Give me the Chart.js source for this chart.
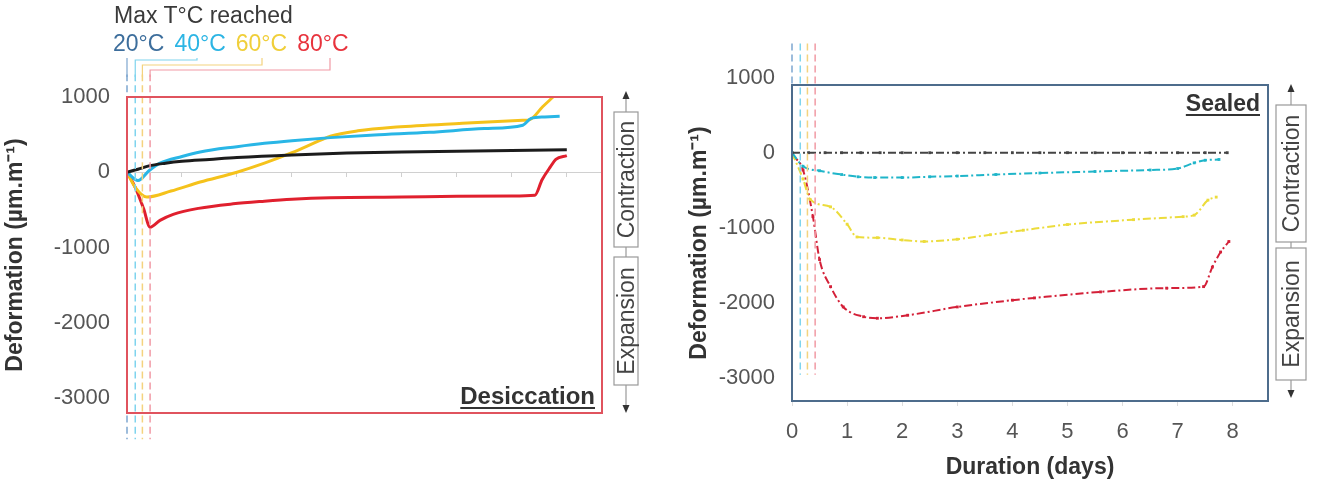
<!DOCTYPE html>
<html>
<head>
<meta charset="utf-8">
<script src="https://cdn.jsdelivr.net/npm/chart.js@4.4.1/dist/chart.umd.min.js"></script>
<style>
  body { margin: 0; background: #fff; width: 1320px; height: 489px; position: relative; overflow: hidden;
         font-family: "Liberation Sans", Arial, sans-serif; color: #333; }
  .panel { position: absolute; top: 0; width: 660px; height: 489px; }
  .lbl { position: absolute; white-space: nowrap; line-height: 1; }
  .tag { font-size: 24px; font-weight: bold; text-decoration: underline; text-decoration-thickness: 2px; text-underline-offset: 3px; }
  #temps span { margin-right: 10px; }
  svg { position: absolute; left: 0; top: 0; }
</style>
</head>
<body>
<div class="panel" style="left:0"><canvas id="dry" width="660" height="489"></canvas></div>
<div class="panel" style="left:660px"><canvas id="sealed" width="660" height="489"></canvas></div>

<div class="lbl" style="left:114px; top:4px; font-size:23px; color:#3a3a3a">Max T°C reached</div>
<div class="lbl" id="temps" style="left:113px; top:32px; font-size:23px"></div>
<div class="lbl tag" style="right:725px; top:384px">Desiccation</div>
<div class="lbl tag" style="right:60px; top:92px; font-size:23px">Sealed</div>

<svg width="1320" height="489" font-family="Liberation Sans, Arial, sans-serif" font-size="23" fill="#444">
  <g stroke="#999" stroke-width="1.2" fill="none">
    <line x1="626" y1="97" x2="626" y2="112"/><rect x="614" y="112" width="24" height="135"/>
    <line x1="626" y1="247" x2="626" y2="257"/><rect x="614" y="257" width="24" height="128"/>
    <line x1="626" y1="385" x2="626" y2="408"/>
    <line x1="1291" y1="90" x2="1291" y2="105"/><rect x="1276" y="105" width="30" height="137"/>
    <line x1="1291" y1="242" x2="1291" y2="248"/><rect x="1276" y="248" width="30" height="132"/>
    <line x1="1291" y1="380" x2="1291" y2="392"/>
  </g>
  <g fill="#333">
    <polygon points="626,91 622.5,99 629.5,99"/><polygon points="626,413 622.5,405 629.5,405"/>
    <polygon points="1291,84 1287.5,92 1294.5,92"/><polygon points="1291,398 1287.5,390 1294.5,390"/>
  </g>
  <text transform="translate(634,179.5) rotate(-90)" text-anchor="middle">Contraction</text>
  <text transform="translate(634,321) rotate(-90)" text-anchor="middle">Expansion</text>
  <text transform="translate(1299,173.5) rotate(-90)" text-anchor="middle">Contraction</text>
  <text transform="translate(1299,314) rotate(-90)" text-anchor="middle">Expansion</text>
</svg>

<script>
// axis ticks
const dayTicks = [0, 1, 2, 3, 4, 5, 6, 7, 8];
const yTicks = [1000, 0, -1000, -2000, -3000];

// max temperature reached and when (days)
const maxTemps = ['20°C', '40°C', '60°C', '80°C'];
const maxTempDays = [0, 0.15, 0.28, 0.42];

// desiccation series [days, µm/m]
const dry20 = [[0,0],[0.2,40],[0.4,85],[0.7,120],[1,145],[1.5,170],[2,195],[3,230],[4,255],[5,270],[6,280],[7,290],[8,300]];
const dry40 = [[0,0],[0.2,-110],[0.4,20],[0.6,120],[1,210],[1.33,270],[2,340],[2.5,385],[3,420],[3.7,460],[4.5,495],[5.5,530],[6.5,580],[7.2,625],[7.35,715],[7.6,735],[7.87,745]];
const dry60 = [[0,0],[0.15,-200],[0.36,-330],[0.8,-250],[1.33,-130],[2,0],[2.5,120],[3,260],[3.5,420],[3.7,480],[4.2,550],[4.9,600],[6.1,650],[7.2,690],[7.33,700],[7.56,870],[7.75,1000]];
const dry80 = [[0,0],[0.15,-200],[0.3,-480],[0.42,-730],[0.6,-640],[0.84,-560],[1.3,-480],[1.93,-420],[2.5,-385],[3,-360],[3.7,-340],[5,-330],[6,-320],[7,-315],[7.42,-305],[7.55,-100],[7.7,70],[7.8,170],[8,220]];

// sealed series [days, µm/m]
const sealed20 = [[0,0],[0.3,0],[0.6,0],[0.9,0],[1.25,0],[1.6,0],[2,0],[2.5,0],[3,0],[3.5,0],[4,0],[4.5,0],[5,0],[5.5,0],[6,0],[6.5,0],[7,0],[7.5,0],[7.9,0]];
const sealed40 = [[0,0],[0.2,-180],[0.5,-240],[0.9,-290],[1.2,-320],[1.5,-330],[2,-330],[2.5,-320],[3,-310],[3.7,-290],[4.5,-270],[5.5,-250],[6.5,-230],[7,-210],[7.3,-135],[7.5,-100],[7.75,-90]];
const sealed60 = [[0,0],[0.2,-350],[0.33,-620],[0.7,-720],[1,-950],[1.18,-1120],[1.55,-1130],[2,-1160],[2.4,-1180],[3,-1150],[3.6,-1090],[4.2,-1030],[5,-955],[6.2,-890],[7.1,-850],[7.3,-830],[7.55,-630],[7.7,-590]];
const sealed80 = [[0,-30],[0.2,-230],[0.38,-850],[0.5,-1420],[0.7,-1780],[0.93,-2050],[1.3,-2180],[1.55,-2200],[2.1,-2160],[3,-2050],[4,-1960],[4.4,-1930],[5.6,-1850],[6.8,-1800],[7.47,-1780],[7.63,-1520],[7.78,-1320],[7.93,-1180]];

const tempColors = ['#3d6e9c', '#2cb5e4', '#f0cf3a', '#e8333d'];
const markColors = ['#7ea6cf', '#7fd4ee', '#f4d37e', '#f19aa5'];

document.getElementById('temps').innerHTML =
  maxTemps.map((t, i) => `<span style="color:${tempColors[i]}">${t}</span>`).join('');

Chart.defaults.font.family = '"Liberation Sans", Arial, sans-serif';
Chart.defaults.animation = false;

const pts = arr => arr.map(([x, y]) => ({ x, y }));
const plain = v => String(v);

const frame = {
  id: 'frame',
  afterDatasetsDraw(chart, args, opts) {
    const { ctx, chartArea: a } = chart;
    ctx.save();
    ctx.strokeStyle = opts.color;
    ctx.lineWidth = 2;
    ctx.strokeRect(a.left, a.top, a.right - a.left, a.bottom - a.top);
    ctx.restore();
  }
};

// leader lines from the temperature labels down to the marker lines
const leaders = {
  id: 'leaders',
  afterDraw(chart) {
    const { ctx, scales: { x } } = chart;
    const level = [0, 60, 65, 70];
    const ends = [0, 197, 262, 330];
    ctx.save();
    ctx.lineWidth = 1.2;
    maxTempDays.forEach((d, i) => {
      const px = x.getPixelForValue(d);
      ctx.strokeStyle = markColors[i];
      ctx.beginPath();
      ctx.moveTo(px, 77);
      if (i === 0) {
        ctx.lineTo(px, 58);
      } else {
        ctx.lineTo(px, level[i]);
        ctx.lineTo(ends[i], level[i]);
        ctx.lineTo(ends[i], 58);
      }
      ctx.stroke();
    });
    ctx.restore();
  }
};

function markerSets(top, bottom) {
  return maxTempDays.map((d, i) => ({
    data: [{ x: d, y: top }, { x: d, y: bottom }],
    borderColor: markColors[i],
    borderWidth: 1.5,
    borderDash: [7, 4],
    pointRadius: 0,
    clip: false
  }));
}

function yScale(min, max, titlePad, width) {
  return {
    type: 'linear', min, max,
    afterBuildTicks: s => { s.ticks = yTicks.map(v => ({ value: v })); },
    afterFit: s => { s.width = width; },
    grid: { display: false, drawTicks: false },
    border: { display: false },
    ticks: { padding: 17, color: '#555', font: { size: 22 }, callback: plain },
    title: { display: true, text: 'Deformation (µm.m⁻¹)', color: '#333',
             font: { size: 23, weight: 'bold' }, padding: { top: titlePad } }
  };
}

new Chart(document.getElementById('dry'), {
  type: 'line',
  data: {
    datasets: [
      ...markerSets(1300, -3550),
      { data: pts(dry20), borderColor: '#1c1c1c' },
      { data: pts(dry40), borderColor: '#29b6e6' },
      { data: pts(dry60), borderColor: '#f5c21b' },
      { data: pts(dry80), borderColor: '#e0202e' }
    ].map(ds => ({ borderWidth: 3, pointRadius: 0, cubicInterpolationMode: 'monotone', ...ds }))
  },
  options: {
    responsive: false,
    layout: { padding: { left: 0, right: 58, top: 97, bottom: 76 } },
    plugins: { legend: { display: false }, tooltip: { enabled: false }, frame: { color: '#e0535e' } },
    scales: {
      x: {
        type: 'linear', min: 0, max: 8.64, position: { y: 0 },
        afterBuildTicks: s => { s.ticks = dayTicks.map(v => ({ value: v })); },
        ticks: { display: false },
        grid: { drawOnChartArea: false, tickLength: 4, color: '#d0d0d0' },
        border: { color: '#d0d0d0' }
      },
      y: yScale(-3200, 1000, 2, 127)
    }
  },
  plugins: [frame, leaders]
});

new Chart(document.getElementById('sealed'), {
  type: 'line',
  data: {
    datasets: [
      ...markerSets(1450, -2950),
      { data: pts(sealed20), borderColor: '#444', pointBackgroundColor: '#444' },
      { data: pts(sealed40), borderColor: '#1fb5c9', pointBackgroundColor: '#1fb5c9' },
      { data: pts(sealed60), borderColor: '#ecdc3c', pointBackgroundColor: '#ecdc3c' },
      { data: pts(sealed80), borderColor: '#d42038', pointBackgroundColor: '#d42038' }
    ].map((ds, i) => i < 4 ? ds : ({
      borderWidth: 2, borderDash: [8, 3, 2, 3], pointRadius: 2, pointStyle: 'rect',
      pointBorderWidth: 0, cubicInterpolationMode: 'monotone', ...ds
    }))
  },
  options: {
    responsive: false,
    layout: { padding: { left: 0, right: 52, top: 85, bottom: 0 } },
    plugins: { legend: { display: false }, tooltip: { enabled: false }, frame: { color: '#4d6c8c' } },
    scales: {
      x: {
        type: 'linear', min: 0, max: 8.64, position: 'bottom',
        afterBuildTicks: s => { s.ticks = dayTicks.map(v => ({ value: v })); },
        afterFit: s => { s.height = 88; },
        grid: { drawOnChartArea: false, tickLength: 5, color: '#ddd' },
        border: { display: false },
        ticks: { padding: 13, color: '#555', font: { size: 22 }, maxRotation: 0, callback: plain },
        title: { display: true, text: 'Duration (days)', color: '#333',
                 font: { size: 23, weight: 'bold' }, padding: { top: 0, bottom: 8 } }
      },
      y: yScale(-3300, 900, 26, 132)
    }
  },
  plugins: [frame]
});
</script>
</body>
</html>
